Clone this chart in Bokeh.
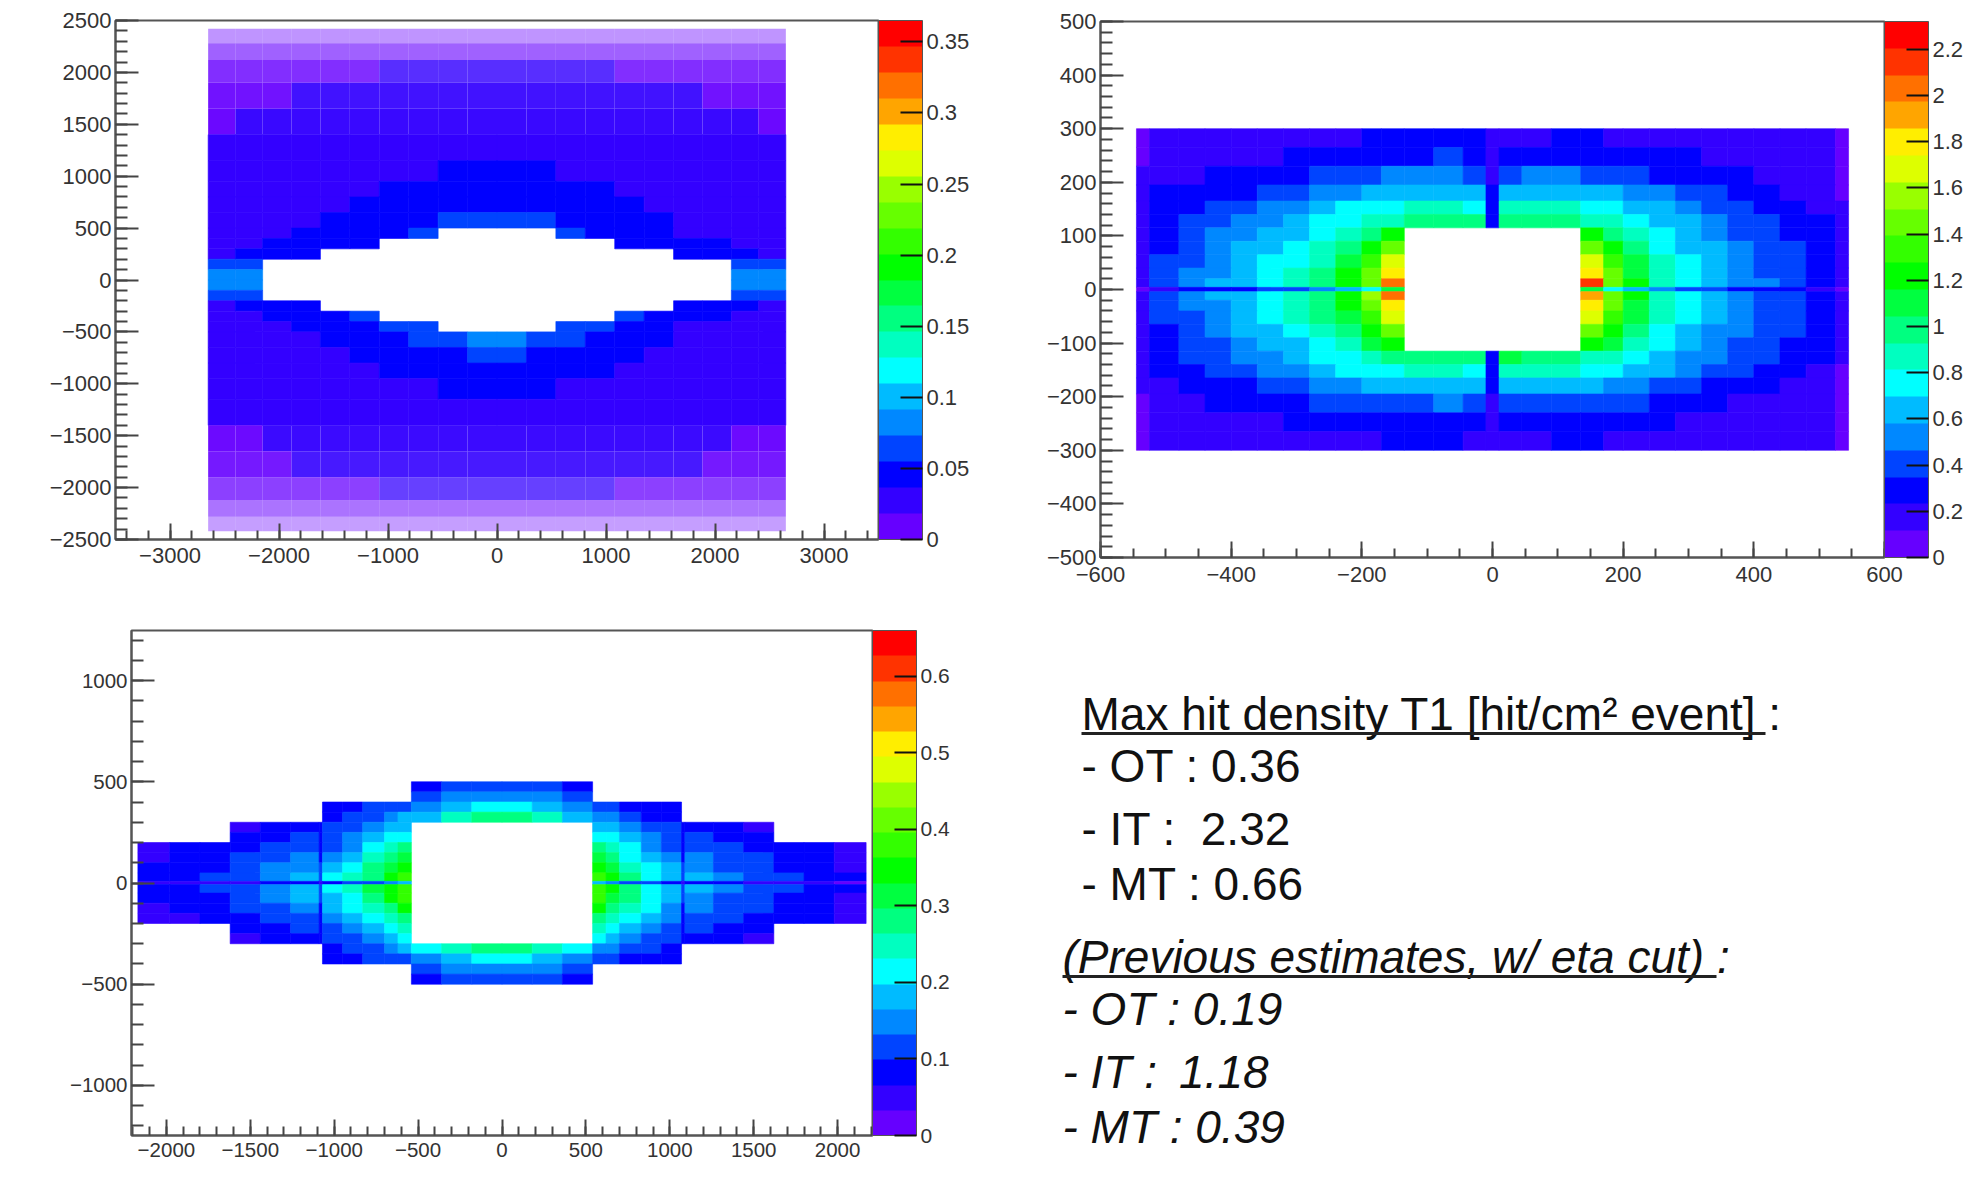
from math import pi
from bokeh.plotting import figure
from bokeh.layouts import column, row
from bokeh.models import (ColorBar, ColumnDataSource, FixedTicker, Label,
                          LinearColorMapper, Range1d)
from bokeh.core.properties import value
from bokeh.embed import file_html
from bokeh.resources import INLINE

N = None

PALETTE = ["#6600ff", "#3300ff", "#0000ff", "#0044ff", "#0088ff", "#00bbff", "#00ffff",
           "#00ffc0", "#00ff80", "#00ff40", "#00ff00", "#33ff00", "#66ff00", "#99ff00", "#ddff00",
           "#ffee00", "#ffa500", "#ff7000", "#ff3300", "#ff0000"]

# ---- outer tracker (thousandths)
OT_X = [-2650,-2400,-2150,-1885,-1620,-1350,-1080,-810,-540,-270,0,270,540,810,1080,1350,1620,1885,2150,2400,2650]
OT_Y = [2420,2280,2120,1900,1650,1400,1150,950,800,650,500,400,300,200,100,0,
        -100,-200,-300,-400,-500,-650,-800,-950,-1150,-1400,-1650,-1900,-2120,-2280,-2420]
OT_FILL = [.42,.62,.82,.93,.97,1,1,1,1,1,1,1,1,1,1,1,1,1,1,1,1,1,1,1,1,.96,.9,.75,.55,.38]
OT_ROWS = [
 [10,11,11,12,12,12,12,12,12,13,13,12,12,12,12,12,11,11,11,10],
 [11,12,13,14,14,15,15,15,15,15,15,15,15,15,15,14,13,13,12,11],
 [14,15,16,17,18,18,19,20,20,21,21,20,20,19,18,18,17,16,15,14],
 [16,17,18,20,21,22,23,24,24,25,25,24,24,23,22,21,20,18,17,16],
 [18,19,21,22,24,25,26,27,28,28,28,28,27,26,25,24,22,20,19,18],
 [19,21,23,25,26,28,30,31,32,33,33,32,31,30,28,26,24,22,20,19],
 [20,23,25,27,29,31,33,35,37,38,38,37,35,33,31,29,26,24,22,20],
 [21,24,27,29,31,34,37,40,43,45,45,43,40,37,34,31,28,25,23,21],
 [23,26,28,31,34,37,41,46,50,54,54,50,46,41,37,34,30,27,24,23],
 [25,28,31,34,37,41,48,54,62,68,68,62,54,48,41,37,33,29,26,25],
 [27,30,33,37,41,47,54,62,N,N,N,N,62,54,47,41,36,32,29,27],
 [30,33,38,42,47,53,N,N,N,N,N,N,N,N,53,47,42,37,33,30],
 [36,40,45,52,N,N,N,N,N,N,N,N,N,N,N,N,52,45,40,36],
 [62,68,N,N,N,N,N,N,N,N,N,N,N,N,N,N,N,N,68,62],
 [75,85,N,N,N,N,N,N,N,N,N,N,N,N,N,N,N,N,85,75],
 [78,88,N,N,N,N,N,N,N,N,N,N,N,N,N,N,N,N,84,74],
 [60,66,N,N,N,N,N,N,N,N,N,N,N,N,N,N,N,N,66,60],
 [34,38,44,50,N,N,N,N,N,N,N,N,N,N,N,N,50,44,38,34],
 [29,32,37,42,48,55,N,N,N,N,N,N,N,N,55,48,42,37,32,29],
 [27,29,33,37,42,48,56,66,N,N,N,N,66,56,48,41,36,32,29,27],
 [25,28,31,34,38,43,50,57,66,74,74,66,56,49,42,37,33,29,26,25],
 [23,25,28,31,34,38,42,48,54,60,60,54,48,42,37,34,30,27,24,23],
 [21,23,26,28,31,34,37,40,44,46,46,44,40,37,34,31,28,25,23,21],
 [20,22,24,26,29,31,33,35,37,38,38,37,35,33,31,28,26,24,22,20],
 [19,20,22,24,26,28,30,31,32,33,33,32,31,30,28,26,24,22,20,19],
 [17,18,20,22,23,25,26,27,28,28,28,28,27,26,25,23,22,20,18,17],
 [15,16,18,20,21,22,23,24,24,25,25,24,24,23,22,21,20,18,16,15],
 [13,14,16,17,18,18,19,20,20,21,21,20,20,19,18,18,17,16,14,13],
 [11,12,13,14,14,15,15,15,15,15,15,15,15,15,15,14,13,13,12,11],
 [9,10,11,12,12,12,12,12,12,13,13,12,12,12,12,12,11,11,10,9],
]

# ---- inner tracker (hundredths)
IT_X = [-545,-525,-480,-440,-400,-360,-320,-280,-240,-200,-170,-135,-90,-45,-10,10,45,90,135,170,200,240,280,320,360,400,440,480,525,545]
IT_Y = [300,265,230,195,165,140,115,90,65,40,20,4,-4,-20,-40,-65,-90,-115,-140,-165,-195,-230,-265,-300]
H7 = [N] * 7
IT_ROWS = [
 [10,17,18,18,19,20,20,21,22,24,26,24,26,24,14,22,23,24,24,23,22,20,20,19,18,18,17,16,9],
 [11,19,20,21,22,23,25,27,30,32,34,34,35,33,18,30,33,34,33,31,29,26,24,23,21,20,19,18,10],
 [12,21,23,24,26,28,31,36,40,44,47,48,50,46,22,44,48,47,46,42,38,34,30,27,24,22,21,19,11],
 [13,24,28,31,34,38,44,50,56,61,64,66,68,62,26,64,68,66,63,60,54,48,42,36,31,27,23,21,11],
 [13,27,33,38,43,50,56,64,70,76,80,82,84,78,30,82,86,82,78,75,68,60,52,44,38,32,27,23,12],
 [14,30,37,43,49,56,64,72,80,88,92,98,102,100,34,104,100,96,92,88,78,68,58,50,42,36,31,25,12],
 [15,32,41,47,53,60,68,78,90,104,122]+H7+[122,102,88,74,62,54,46,39,34,27,13],
 [15,34,44,51,58,66,74,86,102,124,148]+H7+[150,122,100,80,68,58,50,42,36,29,13],
 [15,36,46,54,62,70,80,92,112,134,164]+H7+[168,132,108,86,72,62,54,44,38,30,13],
 [16,37,48,56,64,74,84,96,116,144,178]+H7+[180,140,112,90,76,64,56,46,38,31,14],
 [16,38,50,58,66,76,86,100,120,150,205]+H7+[210,146,116,92,78,66,56,47,39,32,14],
 [10,22,28,30,34,38,44,50,60,74,110]+H7+[114,76,60,50,42,36,32,28,24,20,9],
 [16,37,49,58,66,76,88,100,122,152,200]+H7+[195,144,116,92,78,66,56,46,38,31,13],
 [16,37,48,56,66,74,86,98,118,146,184]+H7+[178,142,114,92,76,64,54,46,38,31,13],
 [15,35,46,54,63,72,82,94,112,136,168]+H7+[166,134,108,86,72,60,52,44,37,30,13],
 [15,33,43,50,58,66,76,88,104,126,150]+H7+[150,124,100,80,66,56,48,41,35,28,13],
 [14,31,39,46,52,60,68,78,92,106,124]+H7+[122,106,88,72,60,52,44,38,33,26,12],
 [14,29,36,42,48,56,64,72,80,88,94,98,100,100,34,106,100,94,92,86,76,66,56,48,41,35,30,24,12],
 [13,26,32,37,42,49,55,62,70,76,80,84,84,78,30,86,88,82,76,72,66,58,50,43,37,31,26,22,11],
 [12,23,27,30,33,37,43,48,54,60,62,64,66,60,26,68,68,62,60,56,52,46,40,34,30,26,22,20,11],
 [11,20,22,24,26,28,30,35,40,43,46,46,48,44,22,46,46,46,44,40,36,32,28,26,23,21,19,18,10],
 [10,18,19,20,21,23,25,27,30,31,33,34,34,32,18,31,32,33,32,30,28,25,23,22,20,19,18,17,9],
 [9,16,17,17,18,19,20,21,22,23,25,24,25,23,13,22,23,24,24,22,21,20,19,18,17,17,16,15,8],
]

# ---- middle tracker (hundredths)
MT_X = [-2170,-1980,-1800,-1620,-1440,-1260,-1090,-1070,-950,-830,-700,-620,-540,-360,-180,0,180,360,540,620,700,830,950,1070,1090,1260,1440,1620,1800,1980,2170]
MT_Y = [500,450,400,350,300,250,200,150,100,50,8,-8,-50,-100,-150,-200,-250,-300,-350,-400,-450,-500]
N7 = [N] * 7
N6 = [N] * 6
MT_ROWS = [
 [N]*12 + [8,10,11,11,10,8] + [N]*12,
 [N]*12 + [11,14,16,16,14,11] + [N]*12,
 N7 + [7,8,10,11,13,14,18,21,20,17,14,12,11,9,8,7] + N7,
 N7 + [8,10,12,14,17,19,24,28,28,24,19,16,14,12,9,8] + N7,
 [N,N,N,6,8,9,7,10,12,14,17,19] + N6 + [19,17,14,12,10,7,9,8,6,N,N,N],
 [N,N,N,7,9,10,8,11,14,17,20,23] + N6 + [23,20,17,14,11,8,10,9,7,N,N,N],
 [6,7,8,9,11,12,8,13,16,20,24,27] + N6 + [27,24,20,16,13,8,12,11,9,8,7,6],
 [6,7,8,10,12,14,9,16,19,24,28,31] + N6 + [31,28,23,19,15,9,14,12,10,8,7,6],
 [7,8,9,12,14,16,10,18,22,27,32,35] + N6 + [35,31,26,21,17,10,16,13,11,9,8,6],
 [7,8,10,13,15,17,11,20,24,29,34,39] + N6 + [39,33,28,22,18,11,17,14,12,10,8,7],
 [4,4,5,6,7,8,5,9,10,12,14,17] + N6 + [17,14,12,10,9,5,8,7,6,5,4,3],
 [7,8,10,13,15,18,11,20,24,30,35,39] + N6 + [39,34,28,22,19,11,17,14,12,10,8,7],
 [7,8,9,12,14,17,10,19,23,28,33,38] + N6 + [38,32,27,22,18,10,16,13,11,9,8,6],
 [6,7,8,10,13,15,9,17,20,25,29,33] + N6 + [33,29,24,20,16,9,14,12,10,8,7,6],
 [6,6,7,9,11,13,8,14,17,21,25,28] + N6 + [28,24,20,17,14,8,12,11,9,8,7,6],
 [N,N,N,7,9,10,8,12,15,18,21,24] + N6 + [24,21,17,14,11,8,10,9,7,N,N,N],
 [N,N,N,6,7,9,7,10,12,14,17,20] + N6 + [20,17,14,12,10,7,9,7,6,N,N,N],
 N7 + [8,10,12,15,17,21,26,29,29,25,20,16,14,12,10,8] + N7,
 N7 + [7,8,10,11,13,16,19,22,21,18,15,12,11,9,8,7] + N7,
 [N]*12 + [12,14,16,16,14,12] + [N]*12,
 [N]*12 + [9,10,11,11,10,9] + [N]*12,
]

OT_CB_TICKS = [0, 0.05, 0.1, 0.15, 0.2, 0.25, 0.3, 0.35]
IT_CB_TICKS = [0, 0.2, 0.4, 0.6, 0.8, 1, 1.2, 1.4, 1.6, 1.8, 2, 2.2]
MT_CB_TICKS = [0, 0.1, 0.2, 0.3, 0.4, 0.5, 0.6]
MAXES = {"OT": 0.365, "IT": 2.32, "MT": 0.66}

HEAD_1 = "Max hit density T1 [hit/cm² event] :"
LINES_1 = ["- OT : 0.36", "- IT :\u00a0 2.32", "- MT : 0.66"]
HEAD_2 = "(Previous estimates, w/ eta cut) :"
LINES_2 = ["- OT : 0.19", "- IT :\u2009 1.18", "- MT : 0.39"]

INK = "#333333"
FRAME = "#555555"
FONT = "Liberation Sans"


def minus(v):
    return str(v).replace("-", "\u2212")


def panel(width, height, left, right, top, bottom, xr, yr, xt, yt, xminor, yminor, fs,
          xstand, ystand, xmaj, xmin, ymaj, ymin, margin):
    p = figure(width=width, height=height, x_range=Range1d(-xr, xr), y_range=Range1d(-yr, yr),
               output_backend="svg", toolbar_location=None,
               min_border_left=left, min_border_right=right, min_border_top=top,
               min_border_bottom=bottom, margin=margin)
    p.grid.visible = False
    p.outline_line_color = FRAME
    p.outline_line_width = 2
    for ax, ticks, minor, stand, maj, mn in ((p.xaxis[0], xt, xminor, xstand, xmaj, xmin),
                                             (p.yaxis[0], yt, yminor, ystand, ymaj, ymin)):
        ax.ticker = FixedTicker(ticks=ticks, minor_ticks=minor)
        ax.major_label_overrides = {t: minus(t) for t in ticks}
        ax.major_label_text_font = FONT
        ax.major_label_text_font_size = f"{fs}px"
        ax.major_label_text_color = INK
        ax.major_label_standoff = stand
        ax.major_tick_in = maj
        ax.major_tick_out = 0
        ax.minor_tick_in = mn
        ax.minor_tick_out = 0
        ax.major_tick_line_color = "#444444"
        ax.minor_tick_line_color = "#444444"
        ax.major_tick_line_width = 2
        ax.minor_tick_line_width = 2
        ax.axis_line_color = FRAME
        ax.axis_line_width = 2
    p.yaxis[0].major_label_orientation = "horizontal"
    return p


def heat(p, xe, ye, rows, unit, high, fill=None):
    mapper = LinearColorMapper(palette=PALETTE, low=0, high=high)
    d = dict(l=[], r=[], t=[], b=[], v=[], a=[], la=[])
    for j, rw in enumerate(rows):
        for i, v in enumerate(rw):
            if v is None:
                continue
            a = 1 if fill is None else fill[j]
            d["l"].append(xe[i]); d["r"].append(xe[i + 1])
            d["t"].append(ye[j]); d["b"].append(ye[j + 1])
            d["v"].append(v / unit); d["a"].append(a); d["la"].append(1 if a == 1 else 0)
    src = ColumnDataSource(d)
    col = {"field": "v", "transform": mapper}
    p.quad(left="l", right="r", top="t", bottom="b", source=src, fill_color=col, fill_alpha="a",
           line_color=col, line_alpha="la", line_width=0.6)
    return mapper


def colorbar(p, mapper, ticks, height, fs):
    cb = ColorBar(color_mapper=mapper, ticker=FixedTicker(ticks=ticks), width=44, height=height,
                  padding=0, margin=3, major_tick_in=22, major_tick_out=0,
                  major_tick_line_color="#111111", major_tick_line_width=2, minor_tick_line_color=None,
                  bar_line_color=FRAME, bar_line_width=1, label_standoff=4,
                  major_label_text_font=FONT, major_label_text_font_size=f"{fs}px",
                  major_label_text_color=INK, major_label_overrides={t: str(t) for t in ticks})
    p.add_layout(cb, "right")


def axis_label(p, text, sx, sy, angle, fs):
    # sx, sy are pixels from the frame's lower left corner
    p.add_layout(Label(x=sx, y=sy, x_units="screen", y_units="screen", text=text, angle=angle,
                       text_align="right", text_baseline="alphabetic", text_font=FONT,
                       text_font_size=f"{fs}px", text_color=INK))


# --- OT panel: canvas 22..985 x 8..569, frame 115..878 x 20..539
pA = panel(963, 561, 93, 107, 12, 30, 3500, 2500,
           [-3000, -2000, -1000, 0, 1000, 2000, 3000], [-2500, -2000, -1500, -1000, -500, 0, 500, 1000, 1500, 2000, 2500],
           [v * 200 for v in range(-17, 18)], [v * 100 for v in range(-25, 26)], 22, 8, 4, 16, 9, 23, 12,
           (0, 5, 0, 14))
mA = heat(pA, OT_X, OT_Y, OT_ROWS, 1000, MAXES["OT"], OT_FILL)
colorbar(pA, mA, OT_CB_TICKS, 519, 22)
axis_label(pA, "Y [mm]", -84, 519, pi / 2, 22)
axis_label(pA, "X [mm]", 760, -44, 0, 22)

# --- IT panel: canvas 990..1972 x 8..612, frame 1100..1884 x 21..557
pB = panel(982, 604, 110, 88, 13, 55, 600, 500,
           [-600, -400, -200, 0, 200, 400, 600], [-500, -400, -300, -200, -100, 0, 100, 200, 300, 400, 500],
           [v * 50 for v in range(-12, 13)], [v * 20 for v in range(-25, 26)], 22, 9, 4, 16, 9, 23, 12,
           (0, 0, 0, 0))
mB = heat(pB, IT_X, IT_Y, IT_ROWS, 100, MAXES["IT"])
colorbar(pB, mB, IT_CB_TICKS, 536, 22)
axis_label(pB, "Y [mm]", -72, 535, pi / 2, 22)
axis_label(pB, "X [mm]", 783, -44, 0, 21)

# --- MT panel: canvas 38..1000 x 612..1180, frame 131..872 x 630..1135
pC = panel(962, 568, 93, 128, 18, 45, 2208, 1247,
           [-2000, -1500, -1000, -500, 0, 500, 1000, 1500, 2000], [-1000, -500, 0, 500, 1000],
           [v * 100 for v in range(-22, 23)], [v * 100 for v in range(-12, 13)], 20.5, 7, 4, 16, 9, 23, 12,
           (0, 0, 0, 30))
mC = heat(pC, MT_X, MT_Y, MT_ROWS, 100, MAXES["MT"])
colorbar(pC, mC, MT_CB_TICKS, 505, 21)
axis_label(pC, "Y [mm]", -78, 505, pi / 2, 22)
axis_label(pC, "X [mm]", 741, -41, 0, 21)

# --- text panel: canvas 1000..1965 x 612..1175
pT = figure(width=965, height=563, x_range=Range1d(1000, 1965), y_range=Range1d(1175, 612),
            output_backend="svg", toolbar_location=None, min_border=0, outline_line_color=None)
pT.axis.visible = False
pT.grid.visible = False
TEXT_FS = 46
for txt, x, y, style in [(HEAD_1, 1081, 713, "normal"), (LINES_1[0], 1081, 765, "normal"),
                         (LINES_1[1], 1081, 828, "normal"), (LINES_1[2], 1081, 883, "normal"),
                         (HEAD_2, 1062, 956, "italic"), (LINES_2[0], 1062, 1008, "italic"),
                         (LINES_2[1], 1062, 1071, "italic"), (LINES_2[2], 1062, 1126, "italic")]:
    pT.text([x], [y], text=[txt], text_font=value(FONT), text_font_size=f"{TEXT_FS}px",
            text_font_style=style, text_baseline="middle", text_align="left", text_color="#111111")
pT.segment([1081, 1062], [733, 976], [1765, 1716], [733, 976], line_color="#222222", line_width=3)

layout = column(row(column(pA), column(pB)), row(column(pC), column(pT)), margin=(8, 0, 0, 8))
open("out.html", "w").write(file_html(layout, INLINE))
